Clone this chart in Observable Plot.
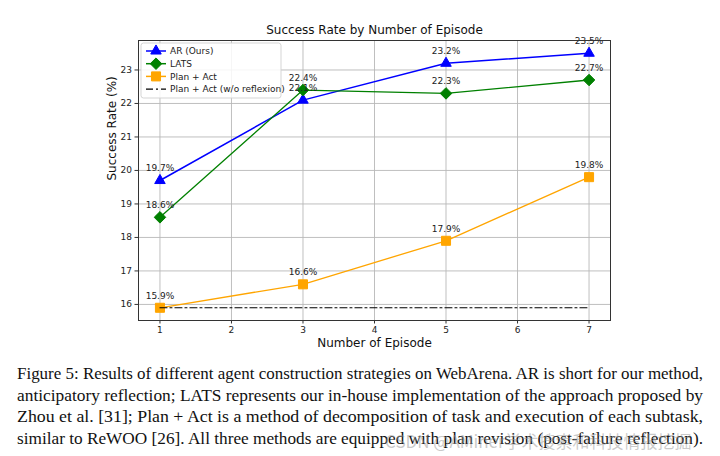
<!DOCTYPE html>
<html>
<head>
<meta charset="utf-8">
<script src="https://cdn.jsdelivr.net/npm/d3@7"></script>
<script src="https://cdn.jsdelivr.net/npm/@observablehq/plot@0.6"></script>
<style>
  html, body { margin: 0; padding: 0; background: #fff; }
  #wrap { position: relative; width: 720px; height: 456px; overflow: hidden; }
  #caption {
    width: 686px; margin-left: 17px; margin-top: 3px;
    font-family: "Liberation Serif", "DejaVu Serif", serif; font-size: 17.5px;
    line-height: 21.7px; color: #111;
  }
  #caption .ln { white-space: nowrap; height: 21.7px; }
  #caption .ln span { display: inline-block; transform-origin: 0 50%; }
  #wm {
    position: absolute; left: 385px; top: 428px;
    font-family: "Noto Sans CJK SC", sans-serif; font-size: 17px; color: rgba(150,150,150,0.5);
    white-space: nowrap;
  }
</style>
</head>
<body>
<div id="wrap">
  <div id="chart"></div>
  <div id="caption"></div>
  <div id="wm">CSDN @AMiner学术搜索和科技情报挖掘</div>
</div>
<script>
const episodes = [1, 3, 5, 7];
const arValues = [19.7, 22.1, 23.2, 23.5];
const latsValues = [18.6, 22.4, 22.3, 22.7];
const planActValues = [15.9, 16.6, 17.9, 19.8];
const baselineValue = 15.9;
const xTicks = [1, 2, 3, 4, 5, 6, 7];
const yTicks = [16, 17, 18, 19, 20, 21, 22, 23];
const seriesNames = ["AR (Ours)", "LATS", "Plan + Act", "Plan + Act (w/o reflexion)"];
const titleText = "Success Rate by Number of Episode";
const xLabel = "Number of Episode";
const yLabel = "Success Rate (%)";
const captionLines = [
  "Figure 5: Results of different agent construction strategies on WebArena. AR is short for our method,",
  "anticipatory reflection; LATS represents our in-house implementation of the approach proposed by",
  "Zhou et al. [31]; Plan + Act is a method of decomposition of task and execution of each subtask,",
  "similar to ReWOO [26]. All three methods are equipped with plan revision (post-failure reflection)."
];

const series = [
  {name: seriesNames[0], values: arValues, color: "#0000ff", symbol: "triangle", r: 3.9, sw: 1.5},
  {name: seriesNames[1], values: latsValues, color: "#008000", symbol: "diamond2", r: 5.2, sw: 1.3},
  {name: seriesNames[2], values: planActValues, color: "#ffa500", symbol: "square", r: 5.1, sw: 1.3}
];
const rows = series.flatMap(s => episodes.map((e, i) => ({series: s.name, x: e, y: s.values[i]})));
const baseline = [{x: episodes[0], y: baselineValue}, {x: episodes[episodes.length - 1], y: baselineValue}];

const marks = [
  Plot.gridX(xTicks, {stroke: "#b8b8b8", strokeOpacity: 1, strokeWidth: 0.9}),
  Plot.gridY(yTicks, {stroke: "#b8b8b8", strokeOpacity: 1, strokeWidth: 0.9}),
  Plot.axisX(xTicks, {tickSize: 3.5, tickPadding: 3, label: null, fontSize: 9, stroke: "#333"}),
  Plot.axisY(yTicks, {tickSize: 3.5, tickPadding: 3, label: null, fontSize: 9, stroke: "#333"})
];
for (const s of series) {
  const d = rows.filter(r => r.series === s.name);
  marks.push(Plot.line(d, {x: "x", y: "y", stroke: s.color, strokeWidth: s.sw}));
  marks.push(Plot.dot(d, {x: "x", y: "y", symbol: () => s.symbol, r: s.r, fill: s.color, stroke: s.color, strokeWidth: 1}));
}
marks.push(Plot.line(baseline, {x: "x", y: "y", stroke: "black", strokeWidth: 1.2, strokeDasharray: "7,3,2,3"}));
for (const s of series) {
  const d = rows.filter(r => r.series === s.name);
  marks.push(Plot.text(d, {x: "x", y: "y", text: r => r.y.toFixed(1) + "%", dy: -12, fontSize: 9, fill: "#222"}));
}
marks.push(Plot.frame({stroke: "#333", strokeWidth: 1}));
marks.push(Plot.text([titleText], {frameAnchor: "top", dy: -10, lineAnchor: "middle", fontSize: 12, fill: "#111"}));
marks.push(Plot.text([xLabel], {frameAnchor: "bottom", dy: 23, lineAnchor: "middle", fontSize: 12, fill: "#111"}));
marks.push(Plot.text([yLabel], {frameAnchor: "left", dx: -26, rotate: -90, lineAnchor: "middle", fontSize: 12, fill: "#111"}));

const chart = Plot.plot({
  width: 720, height: 360,
  marginLeft: 138, marginRight: 110, marginTop: 40, marginBottom: 40,
  style: {fontFamily: "DejaVu Sans", fontSize: "9px", color: "#222", background: "white", overflow: "visible"},
  x: {type: "linear", domain: [0.7, 7.3]},
  y: {type: "linear", domain: [15.52, 23.88]},
  marks
});
document.getElementById("chart").appendChild(chart);

// Legend (inside the frame, upper left)
const svg = d3.select(chart);
const lx = 141, ly = 43;
const lg = svg.append("g").attr("font-family", "DejaVu Sans").attr("font-size", 9).attr("text-anchor", "start");
lg.append("rect").attr("x", lx).attr("y", ly).attr("width", 140).attr("height", 55)
  .attr("rx", 2.5).attr("fill", "white").attr("fill-opacity", 0.85).attr("stroke", "#d0d0d0").attr("stroke-width", 0.9);
const legendItems = [
  ...series.map(s => ({name: s.name, color: s.color, symbol: s.symbol, r: s.r})),
  {name: seriesNames[3], color: "black", dash: "7,3,2,3"}
];
const symMap = {triangle: d3.symbolTriangle, diamond2: d3.symbolDiamond2, square: d3.symbolSquare};
legendItems.forEach((it, i) => {
  const cy = ly + 8 + i * 12.7;
  lg.append("line").attr("x1", lx + 5).attr("x2", lx + 25).attr("y1", cy).attr("y2", cy)
    .attr("stroke", it.color).attr("stroke-width", it.dash ? 1.2 : 1.5).attr("stroke-dasharray", it.dash || null);
  if (it.symbol) {
    lg.append("path").attr("transform", `translate(${lx + 15},${cy})`)
      .attr("d", d3.symbol(symMap[it.symbol], it.r * it.r * Math.PI)())
      .attr("fill", it.color).attr("stroke", it.color);
  }
  lg.append("text").attr("x", lx + 29).attr("y", cy).attr("dy", "0.35em").attr("fill", "#222").text(it.name);
});

// Caption: one fitted line per reference line
const cap = document.getElementById("caption");
captionLines.forEach(t => {
  const ln = document.createElement("div");
  ln.className = "ln";
  const sp = document.createElement("span");
  sp.textContent = t;
  ln.appendChild(sp);
  cap.appendChild(ln);
  const w = sp.getBoundingClientRect().width;
  sp.style.transform = `scaleX(${686 / w})`;
});
</script>
</body>
</html>
